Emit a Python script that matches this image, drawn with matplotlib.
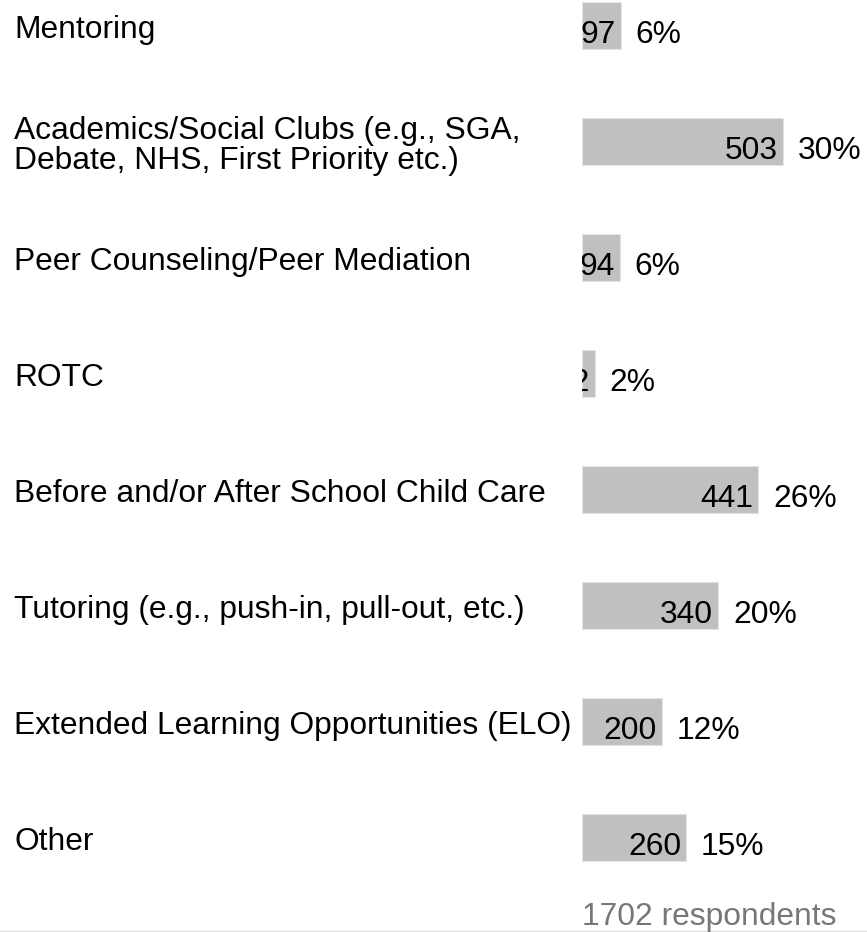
import matplotlib
matplotlib.use("Agg")
import matplotlib.pyplot as plt
from matplotlib.transforms import TransformedBbox

plt.rcParams['font.family'] = ['Liberation Sans', 'DejaVu Sans']

# survey answers
categories = [
    "Mentoring",
    "Academics/Social Clubs (e.g., SGA,\nDebate, NHS, First Priority etc.)",
    "Peer Counseling/Peer Mediation",
    "ROTC",
    "Before and/or After School Child Care",
    "Tutoring (e.g., push-in, pull-out, etc.)",
    "Extended Learning Opportunities (ELO)",
    "Other",
]
counts = [97, 503, 94, 32, 441, 340, 200, 260]
respondents = 1702

W, H = 867, 932
fig = plt.figure(figsize=(W / 100, H / 100), dpi=100)

# bar area in pixels
x0 = 582
px_per_unit = 0.40
row = 116
first = 25.5
fs = 22.9  # ~32 px

ax = fig.add_axes([x0 / W, 0, (W - x0) / W, 1])
ax.set_xlim(0, (W - x0) / px_per_unit)
ax.set_ylim((H - first) / row, -first / row)
ax.axis('off')

ypos = list(range(len(categories)))
bars = ax.barh(ypos, counts, height=47 / row, color='#c0c0c0',
               edgecolor='#e4e4e4', linewidth=0.8)

def px_x(p):
    # pixel column -> data x
    return (p - x0) / px_per_unit

for i, (lab, n, bar) in enumerate(zip(categories, counts, bars)):
    lines = lab.split("\n")
    for k, line in enumerate(lines):
        base = i + (12.5 - (len(lines) - 1) * 14.5 + k * 29) / row
        ax.text(px_x(14), base, line, fontsize=fs, color='black',
                ha='left', va='baseline', clip_on=False)
    # count inside bar, cut at the bar's edges
    t = ax.text(n - 5 / px_per_unit, i + 17.5 / row, str(n), fontsize=fs,
                color='black', ha='right', va='baseline')
    t.set_clip_path(None)
    t.set_clip_box(TransformedBbox(bar.get_bbox(), ax.transData))
    t.set_clip_on(True)
    pct = round(n / respondents * 100)
    ax.text(n + 15 / px_per_unit, i + 17.5 / row, f"{pct}%", fontsize=fs,
            color='black', ha='left', va='baseline', clip_on=False)

fig.text(x0 / W, 1 - 925 / H, f"{respondents} respondents", fontsize=fs,
         color='#777777', ha='left', va='baseline')
fig.add_artist(plt.Line2D([0, 1], [1 - 930.5 / H] * 2, color='#e0e0e0',
                          linewidth=1, transform=fig.transFigure))

fig.savefig("out.png", dpi=100)
